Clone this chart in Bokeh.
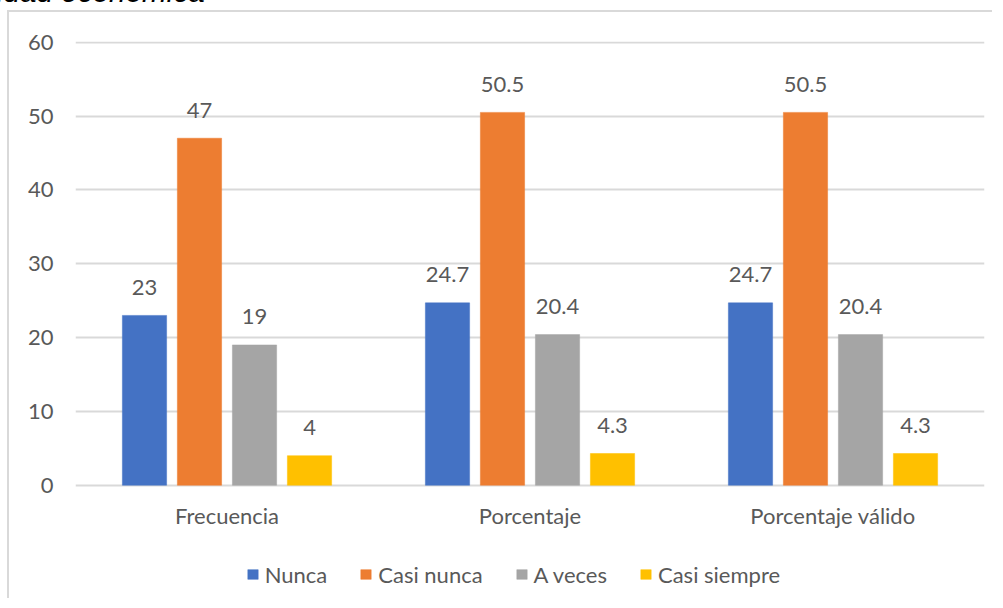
from bokeh.plotting import figure
from bokeh.models import (ColumnDataSource, FactorRange, Range1d, FixedTicker, Legend,
                          LegendItem, Div)
from bokeh.layouts import column
from bokeh.transform import dodge
from bokeh.core.properties import value
from bokeh.embed import file_html
from bokeh.resources import INLINE

# ---- data ----
categories = ["Frecuencia", "Porcentaje", "Porcentaje válido"]
series_names = ["Nunca", "Casi nunca", "A veces", "Casi siempre"]
nunca = [23, 24.7, 24.7]
casi_nunca = [47, 50.5, 50.5]
a_veces = [19, 20.4, 20.4]
casi_siempre = [4, 4.3, 4.3]
y_ticks = [0, 10, 20, 30, 40, 50, 60]
title_text = "Capacidad económica"

series_values = [nunca, casi_nunca, a_veces, casi_siempre]
colors = ["#4472C4", "#ED7D31", "#A5A5A5", "#FFC000"]
offsets = [-0.2723, -0.0908, 0.0908, 0.2723]
bar_w = 0.146

TXT = "#595959"
FONT = "Lato"

# frame spans the lower part of the canvas too, so that the legend is not clipped
p = figure(width=985, height=588, output_backend="svg", toolbar_location=None,
           x_range=FactorRange(*categories), y_range=Range1d(-15.07, 60.1),
           min_border_left=66, min_border_right=10, min_border_top=29,
           min_border_bottom=4, margin=(0, 0, 0, 7))
p.outline_line_color = None
p.background_fill_color = "white"
p.border_fill_color = "white"
p.styles = {"border-top": "2px solid #D9D9D9", "border-left": "2px solid #D9D9D9"}

renderers = []
for name, vals, col, off in zip(series_names, series_values, colors, offsets):
    src = ColumnDataSource(dict(cat=categories, val=vals,
                                lab=[f"{v:g}" for v in vals]))
    r = p.vbar(x=dodge("cat", off, range=p.x_range), top="val", bottom=0, width=bar_w,
               source=src, fill_color=col, line_color=col, line_width=0.5)
    p.text(x=dodge("cat", off, range=p.x_range), y="val", text="lab", source=src,
           text_align="center", text_baseline="middle", y_offset=-28,
           text_font=value(FONT), text_font_size="22px", text_color=TXT)
    renderers.append(r)

# axes
p.yaxis.ticker = FixedTicker(ticks=y_ticks)
p.yaxis.axis_line_color = None
p.yaxis.major_tick_line_color = None
p.yaxis.minor_tick_line_color = None
p.yaxis.major_tick_out = 0
p.yaxis.major_tick_in = 0
p.yaxis.major_label_standoff = 22
p.yaxis.major_label_text_font = FONT
p.yaxis.major_label_text_font_size = "22px"
p.yaxis.major_label_text_color = TXT

p.xaxis.fixed_location = 0
p.xaxis.axis_line_color = None
p.xaxis.major_tick_line_color = None
p.xaxis.major_tick_out = 0
p.xaxis.major_tick_in = 0
p.xaxis.major_label_standoff = 17
p.xaxis.major_label_text_font = FONT
p.xaxis.major_label_text_font_size = "22px"
p.xaxis.major_label_text_color = TXT

p.xgrid.grid_line_color = None
p.ygrid.grid_line_color = "#D9D9D9"
p.ygrid.grid_line_width = 2

legend = Legend(items=[LegendItem(label=n, renderers=[r]) for n, r in zip(series_names, renderers)],
                location=(170.7, 8.5), orientation="horizontal",
                border_line_color=None, background_fill_alpha=0,
                glyph_width=13, glyph_height=12, label_standoff=6, spacing=32,
                padding=0, margin=0, label_text_font=FONT,
                label_text_font_size="22px", label_text_color=TXT)
p.add_layout(legend)

title = Div(text=title_text, width=400, height=0,
            styles={"position": "relative", "top": "-30px", "left": "-94px",
                    "font-family": "Liberation Sans", "font-style": "italic",
                    "font-size": "29.7px", "line-height": "34px", "color": "#000000",
                    "white-space": "nowrap", "overflow": "visible"})

layout = column(title, p)
open("out.html", "w").write(file_html(layout, INLINE))
